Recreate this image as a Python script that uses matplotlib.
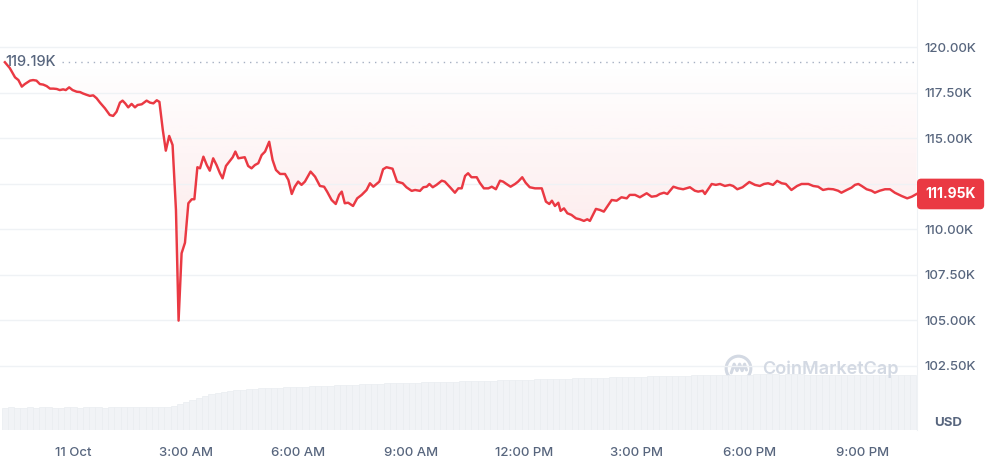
"""
BTC / USD 24h price chart (CoinMarketCap style)
===============================================
Price line with pink gradient fill down from the opening price,
volume bars along the bottom, price axis on the right.
"""

import numpy as np
import matplotlib
matplotlib.use("Agg")
import matplotlib.pyplot as plt
from matplotlib.patches import Circle
from matplotlib.ticker import FuncFormatter

# ── Data ──────────────────────────────────────────────────────────────────────

# hours since 00:00, 11 Oct
hours = [
    -1.81, -1.68, -1.54, -1.45, -1.36, -1.28, -1.14, -1.06, -0.97, -0.88,
    -0.79, -0.70, -0.61, -0.52, -0.43, -0.35, -0.26, -0.19, -0.10, -0.01,
    0.10, 0.19, 0.26, 0.35, 0.45, 0.54, 0.63, 0.72, 0.85, 0.98,
    1.07, 1.16, 1.25, 1.32, 1.39, 1.47, 1.56, 1.65, 1.72, 1.83,
    1.96, 2.05, 2.14, 2.23, 2.30, 2.39, 2.47, 2.56, 2.65, 2.74,
    2.81, 2.89, 2.98, 3.07, 3.16, 3.23, 3.31, 3.38, 3.47, 3.56,
    3.64, 3.73, 3.82, 3.91, 3.98, 4.07, 4.16, 4.25, 4.32, 4.40,
    4.49, 4.57, 4.66, 4.75, 4.84, 4.93, 5.02, 5.11, 5.22, 5.31,
    5.40, 5.51, 5.64, 5.73, 5.82, 5.90, 5.99, 6.08, 6.17, 6.32,
    6.44, 6.57, 6.68, 6.76, 6.88, 6.99, 7.08, 7.15, 7.23, 7.32,
    7.45, 7.56, 7.68, 7.81, 7.90, 7.99, 8.15, 8.25, 8.34, 8.50,
    8.62, 8.77, 8.87, 9.01, 9.10, 9.23, 9.32, 9.41, 9.48, 9.57,
    9.67, 9.81, 9.89, 10.03, 10.16, 10.25, 10.34, 10.43, 10.51, 10.60,
    10.74, 10.82, 10.93, 11.05, 11.14, 11.25, 11.36, 11.44, 11.53, 11.64,
    11.76, 11.84, 11.95, 12.04, 12.15, 12.29, 12.47, 12.58, 12.67, 12.74,
    12.82, 12.91, 12.97, 13.06, 13.15, 13.26, 13.38, 13.48, 13.59, 13.68,
    13.75, 13.91, 14.02, 14.12, 14.33, 14.46, 14.59, 14.73, 14.81, 14.95,
    15.08, 15.26, 15.39, 15.52, 15.61, 15.72, 15.81, 15.97, 16.10, 16.23,
    16.41, 16.54, 16.63, 16.75, 16.81, 16.99, 17.10, 17.21, 17.34, 17.47,
    17.56, 17.67, 17.81, 17.99, 18.14, 18.27, 18.38, 18.49, 18.62, 18.73,
    18.85, 18.96, 19.11, 19.26, 19.38, 19.56, 19.69, 19.82, 19.95, 20.09,
    20.22, 20.35, 20.44, 20.58, 20.71, 20.80, 20.89, 20.98, 21.11, 21.24,
    21.33, 21.46, 21.60, 21.73, 21.86, 22.04, 22.19, 22.31, 22.44,
]

# price, thousands of USD
price_k = [
    119.19, 118.87, 118.36, 118.21, 117.85, 117.99, 118.18, 118.21, 118.18, 117.99,
    117.96, 117.88, 117.74, 117.74, 117.72, 117.66, 117.70, 117.66, 117.81, 117.66,
    117.57, 117.55, 117.48, 117.41, 117.34, 117.37, 117.21, 116.97, 116.66, 116.29,
    116.24, 116.47, 116.97, 117.08, 116.93, 116.71, 116.90, 116.71, 116.84, 116.88,
    117.08, 116.97, 116.93, 117.10, 117.01, 115.47, 114.33, 115.14, 114.64, 111.07,
    104.99, 108.69, 109.27, 111.44, 111.66, 111.66, 113.42, 113.36, 114.00, 113.54,
    113.23, 113.91, 113.54, 113.09, 112.81, 113.49, 113.73, 113.97, 114.28, 113.91,
    113.94, 113.97, 113.49, 113.36, 113.54, 113.64, 114.09, 114.28, 114.82, 113.82,
    113.27, 113.05, 113.05, 112.72, 111.95, 112.35, 112.63, 112.45, 112.63, 113.18,
    112.90, 112.39, 112.35, 112.08, 111.62, 111.40, 111.90, 112.08, 111.44, 111.47,
    111.29, 111.71, 111.90, 112.17, 112.54, 112.35, 112.63, 113.31, 113.42, 113.34,
    112.63, 112.54, 112.32, 112.12, 112.17, 112.12, 112.32, 112.35, 112.50, 112.32,
    112.45, 112.68, 112.63, 112.32, 112.02, 112.26, 112.26, 112.94, 113.09, 112.87,
    112.87, 112.57, 112.26, 112.26, 112.35, 112.21, 112.68, 112.63, 112.50, 112.35,
    112.50, 112.63, 112.87, 112.57, 112.32, 112.26, 112.26, 111.53, 111.40, 111.58,
    111.29, 111.47, 111.02, 111.16, 110.89, 110.80, 110.61, 110.56, 110.47, 110.56,
    110.47, 111.13, 111.07, 110.98, 111.62, 111.58, 111.77, 111.71, 111.90, 111.90,
    111.77, 111.99, 111.80, 111.84, 111.95, 112.02, 111.95, 112.35, 112.26, 112.21,
    112.32, 112.13, 112.08, 112.13, 111.95, 112.50, 112.45, 112.50, 112.39, 112.45,
    112.39, 112.21, 112.32, 112.61, 112.45, 112.39, 112.50, 112.54, 112.45, 112.67,
    112.54, 112.50, 112.17, 112.39, 112.50, 112.50, 112.39, 112.35, 112.17, 112.23,
    112.21, 112.13, 112.02, 112.17, 112.30, 112.45, 112.50, 112.39, 112.21, 112.13,
    112.02, 112.13, 112.21, 112.21, 112.02, 111.84, 111.71, 111.80, 111.95,
]

# 24h volume (billions USD), one bar every 10 min starting at 22:06, 10 Oct
volume_b = [
    45, 46, 45, 45, 46, 45, 46, 46, 45, 45, 46, 46, 45, 46, 46, 46, 45, 46,
    46, 46, 46, 47, 46, 46, 47, 46, 47, 48, 52, 56, 60, 64, 68, 72, 75, 77,
    79, 80, 81, 82, 83, 84, 84, 85, 85, 86, 86, 87, 87, 88, 88, 89, 89, 90,
    90, 91, 91, 92, 92, 93, 93, 94, 94, 94, 95, 95, 95, 96, 96, 96, 97, 97,
    97, 98, 98, 98, 99, 99, 99, 100, 100, 100, 101, 101, 101, 102, 102, 102,
    103, 103, 103, 104, 104, 104, 105, 105, 105, 106, 106, 106, 107, 107, 107,
    108, 108, 108, 108, 109, 109, 109, 110, 110, 110, 110, 111, 111, 111, 111,
    111, 111, 112, 112, 112, 112, 111, 112, 112, 112, 111, 111, 111, 111, 111,
    111, 110, 110, 110, 110, 110, 110, 110, 110, 110, 111, 110, 110,
]
VOL_START_H = -1.9
VOL_STEP_H = 1 / 6

open_price = 119.19
last_price = 111.95

tick_hours = [0, 3, 6, 9, 12, 15, 18, 21]
tick_labels = ["11 Oct", "3:00 AM", "6:00 AM", "9:00 AM",
               "12:00 PM", "3:00 PM", "6:00 PM", "9:00 PM"]
price_ticks = [102.5, 105.0, 107.5, 110.0, 112.5, 115.0, 117.5, 120.0]

# ── Style ─────────────────────────────────────────────────────────────────────

RED = "#ea3943"
LABEL = "#58667e"
GRID = "#eff2f5"
VOL_FC = "#f1f3f6"
VOL_EC = "#eaedf1"
WATERMARK = "#d3d9e3"

W, H = 998, 461
PLOT_R = 917      # px, right edge of plot area
PLOT_B = 430      # px, bottom edge of plot area (from top)
XLIM = (-1.94, 22.45)
YLIM = (98.98, 122.61)

plt.rcParams["font.family"] = ["Inter", "DejaVu Sans"]

fig = plt.figure(figsize=(W / 100, H / 100), dpi=100)
ax = fig.add_axes([0, (H - PLOT_B) / H, PLOT_R / W, PLOT_B / H])
axv = ax.twinx()
ax.set_zorder(2)
ax.patch.set_visible(False)
axv.set_zorder(1)

# ── Volume bars ───────────────────────────────────────────────────────────────

vol_t = VOL_START_H + VOL_STEP_H * np.arange(len(volume_b))
axv.bar(vol_t, volume_b, width=VOL_STEP_H, color=VOL_FC, edgecolor=VOL_EC,
        linewidth=0.5, align="edge")
axv.set_ylim(0, 860)
axv.set_xlim(*XLIM)
axv.axis("off")

# ── Price line + gradient fill ────────────────────────────────────────────────

t = np.array(hours)
p = np.array(price_k)

poly = ax.fill_between(t, p, open_price, color="none", linewidth=0)
grad = np.linspace(0, 1, 256).reshape(-1, 1)
rgba = np.zeros((256, 1, 4))
rgba[..., :3] = matplotlib.colors.to_rgb(RED)
rgba[..., 3] = 0.15 * grad     # transparent at the opening price
img = ax.imshow(rgba, extent=[XLIM[0], XLIM[1], 104.5, open_price],
                aspect="auto", origin="upper", zorder=1, interpolation="bilinear")
img.set_clip_path(poly.get_paths()[0], transform=ax.transData)

ax.plot(t, p, color=RED, lw=1.75, solid_joinstyle="round", zorder=3)

# opening price reference
ax.axhline(open_price, xmin=62 / PLOT_R, xmax=1, color="#a6b0c3",
           lw=1, ls=(0, (1, 3.5)), zorder=2)
ax.text(5 / PLOT_R, open_price, f"{open_price:.2f}K", transform=ax.get_yaxis_transform(),
        ha="left", va="center", fontsize=10.5, fontweight="medium", color=LABEL, zorder=4)

# ── Axes ──────────────────────────────────────────────────────────────────────

ax.set_xlim(*XLIM)
ax.set_ylim(*YLIM)
ax.set_yticks(price_ticks)
ax.yaxis.tick_right()
ax.yaxis.set_major_formatter(FuncFormatter(lambda v, _: f"{v:.2f}K"))
ax.set_xticks(tick_hours)
ax.set_xticklabels(tick_labels)
ax.tick_params(axis="both", length=0, labelsize=9.5, labelcolor=LABEL)
ax.tick_params(axis="y", pad=5)
ax.tick_params(axis="x", pad=12)
for lbl in ax.get_xticklabels() + ax.get_yticklabels():
    lbl.set_fontweight("medium")
ax.grid(axis="y", color=GRID, lw=1)
ax.grid(axis="x", visible=False)
for side in ["top", "left", "bottom"]:
    ax.spines[side].set_visible(False)
ax.spines["right"].set_color(GRID)

# hide 112.50K (covered by the last-price tag)
for lbl, v in zip(ax.get_yticklabels(), price_ticks):
    if v == 112.5:
        lbl.set_visible(False)

# last price tag
ax.annotate(f"{last_price:.2f}K", xy=(1, last_price), xycoords=ax.get_yaxis_transform(),
            xytext=(6, 0), textcoords="offset points", ha="left", va="center",
            fontsize=10, fontweight="bold", color="white", zorder=5,
            annotation_clip=False,
            bbox=dict(boxstyle="round,pad=0.55,rounding_size=0.25",
                      fc=RED, ec=RED))

fig.text(948 / W, 1 - 423 / H, "USD", ha="center", va="center",
         fontsize=9.5, fontweight="bold", color=LABEL)

# ── Watermark ─────────────────────────────────────────────────────────────────

fig.text(830 / W, 1 - 369 / H, "CoinMarketCap", ha="center", va="center",
         fontsize=13, fontweight="semibold", color=WATERMARK)
axl = fig.add_axes([724 / W, 1 - 383 / H, 29 / W, 29 / H])
axl.set_xlim(-1, 1)
axl.set_ylim(-1, 1)
axl.set_aspect("equal")
axl.axis("off")
axl.add_patch(Circle((0, 0), 0.85, fill=False, ec=WATERMARK, lw=2.2))
axl.plot([-0.5, -0.3, -0.1, 0.08, 0.25, 0.42, 0.55],
         [-0.3, 0.3, -0.15, 0.3, -0.15, 0.3, -0.1],
         color=WATERMARK, lw=2.2, solid_joinstyle="round", solid_capstyle="round")

fig.savefig("out.png", dpi=100)
plt.close(fig)
